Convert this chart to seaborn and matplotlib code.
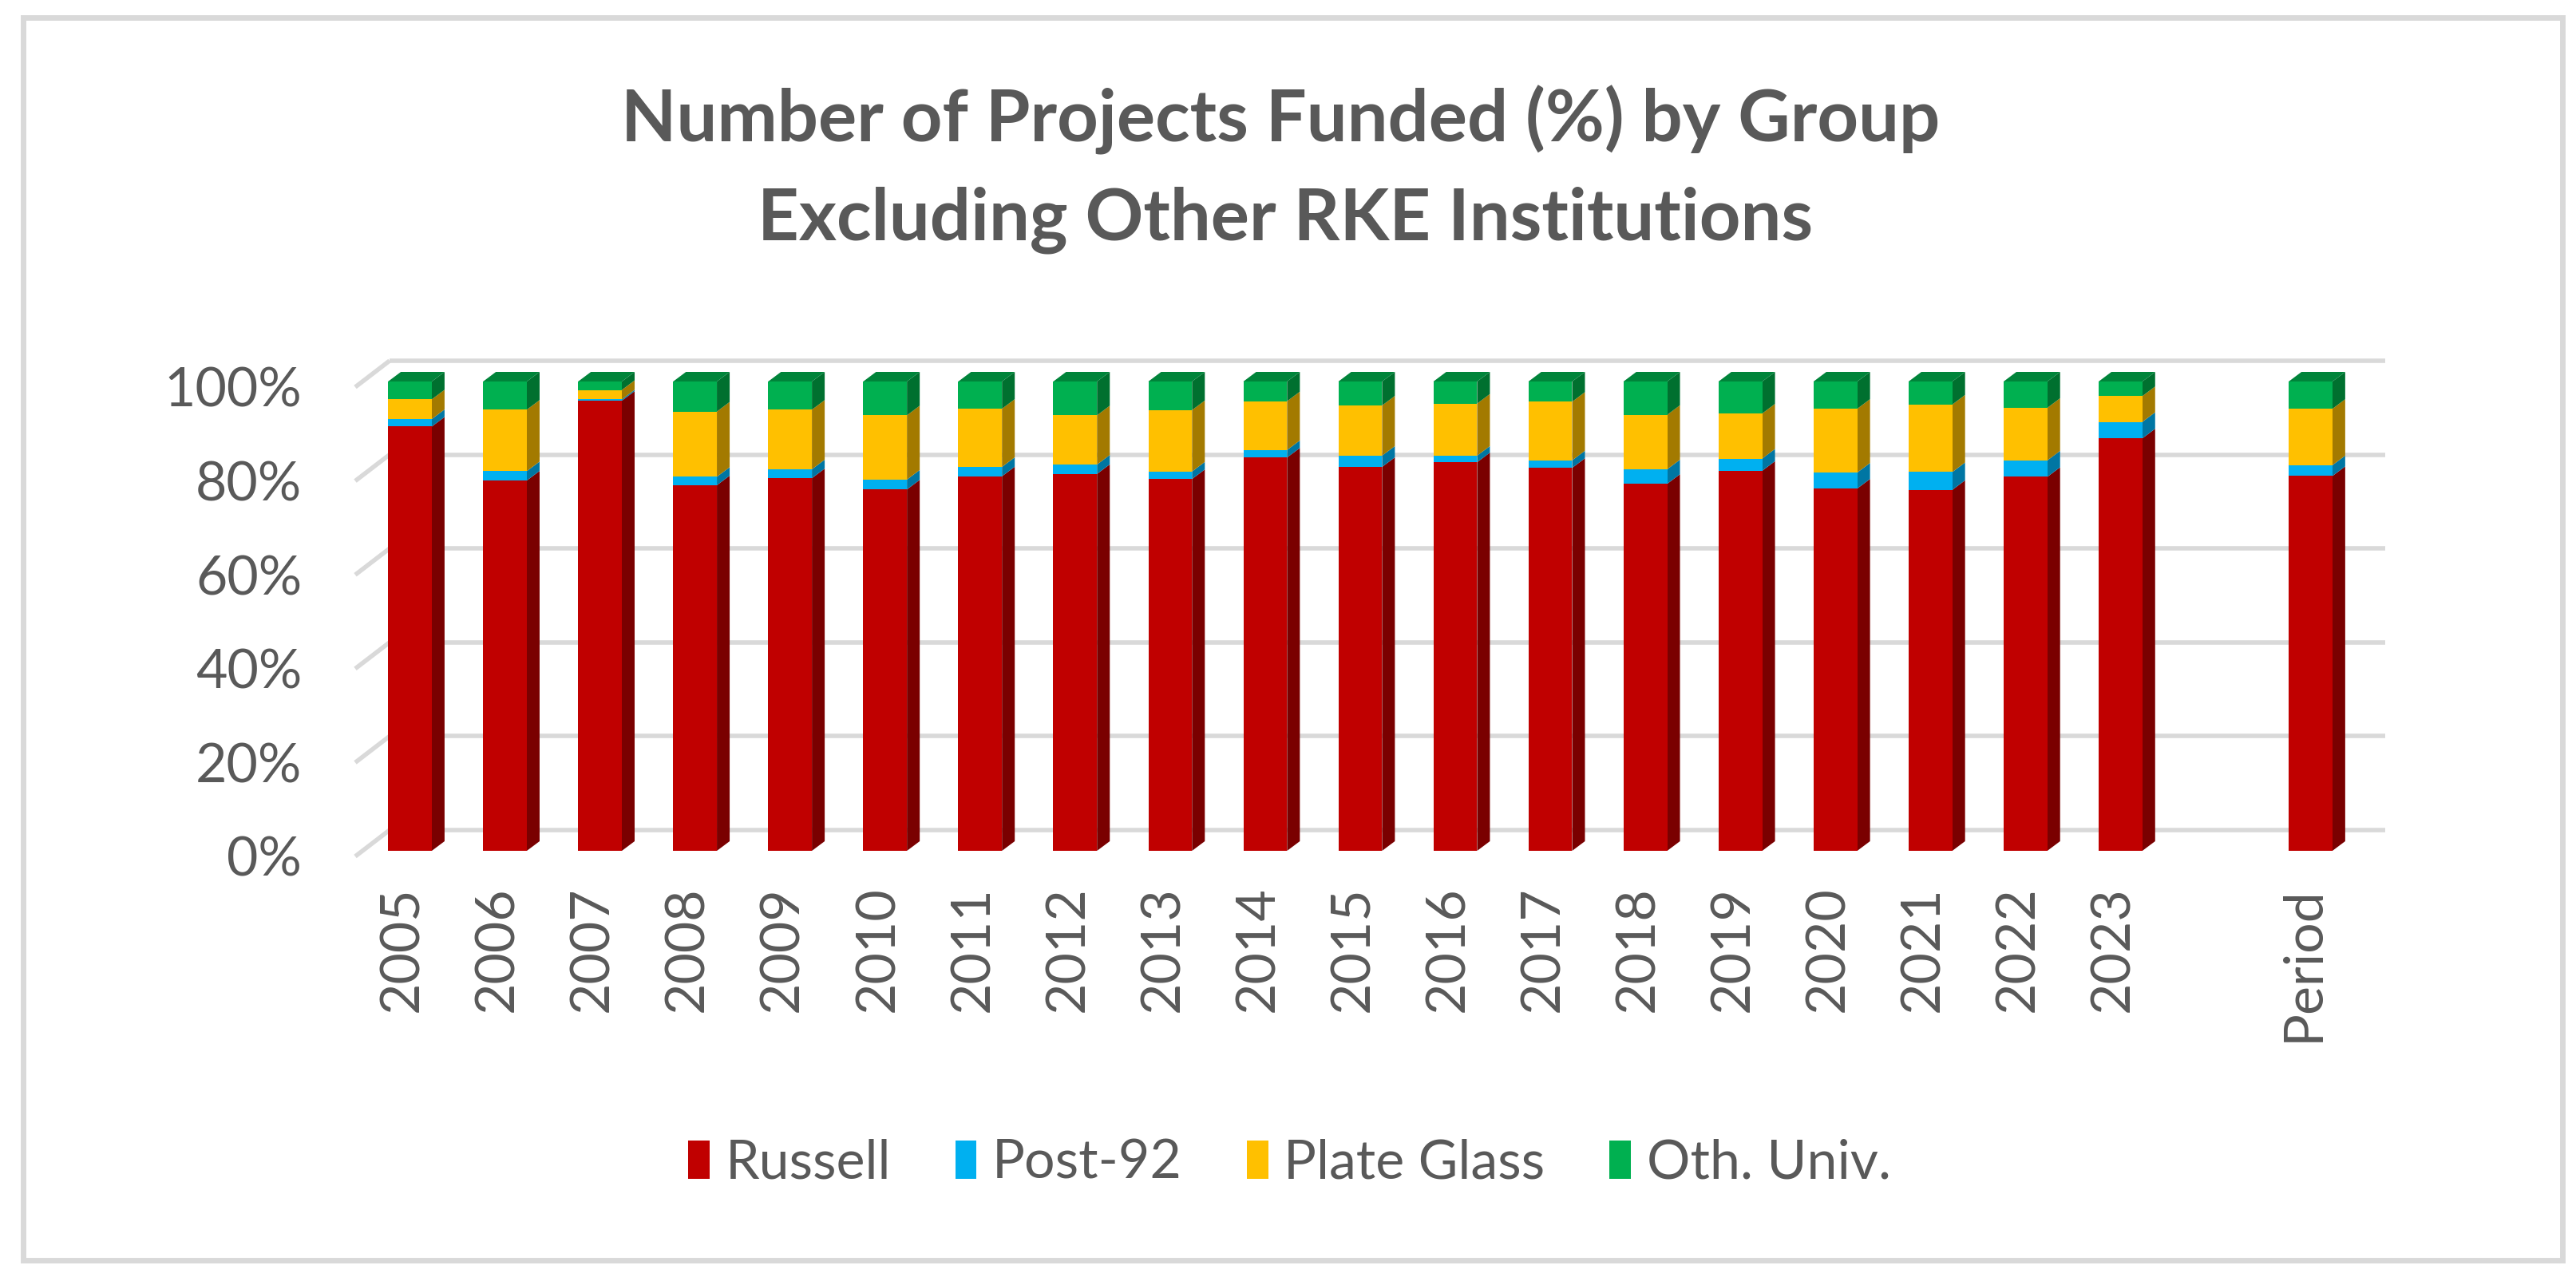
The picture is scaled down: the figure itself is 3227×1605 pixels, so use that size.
import matplotlib
matplotlib.use('Agg')
import numpy as np
import pandas as pd
import seaborn as sns
from matplotlib import pyplot as plt
from matplotlib.patches import Patch, Polygon, Rectangle

# values (percent of projects, per year)
years = [str(y) for y in range(2005, 2024)] + ['Period']
russell = [90.4, 78.9, 95.9, 77.9, 79.4, 77.0, 79.8, 80.3, 79.3, 83.8,
           81.8, 82.8, 81.6, 78.2, 80.9, 77.2, 76.9, 79.6, 87.8, 79.7]
post_92 = [1.6, 2.0, 0.3, 1.8, 1.9, 2.1, 2.0, 2.0, 1.6, 1.6,
           2.4, 1.4, 1.6, 3.1, 2.6, 3.4, 3.8, 3.5, 3.5, 2.3]
plate_glass = [4.2, 13.1, 2.0, 13.9, 12.7, 13.7, 12.4, 10.5, 13.1, 10.4,
               10.7, 11.1, 12.5, 11.6, 9.6, 13.6, 14.4, 11.2, 5.5, 12.0]
oth_univ = [3.8, 6.0, 1.8, 6.4, 6.0, 7.2, 5.8, 7.2, 6.1, 4.2,
            5.1, 4.7, 4.3, 7.1, 6.8, 5.8, 4.9, 5.6, 3.1, 5.8]

series_names = ['Russell', 'Post-92', 'Plate Glass', 'Oth. Univ.']
front_colors = ['#C00000', '#00B0F0', '#FFC000', '#00B050']
side_colors = ['#7A0000', '#0076A3', '#A37A00', '#00702F']
top_color = '#00843A'
tick_values = [0.0, 0.2, 0.4, 0.6, 0.8, 1.0]
tick_labels = ['0%', '20%', '40%', '60%', '80%', '100%']

TITLE = 'Number of Projects Funded (%) by Group\nExcluding Other RKE Institutions'
TEXT_COLOR = '#595959'
GRID_COLOR = '#D9D9D9'

# empty slot between 2023 and Period
order = years[:-1] + [' ', 'Period']
positions = {cat: i for i, cat in enumerate(order)}

df = pd.DataFrame({'year': years, 'Russell': russell, 'Post-92': post_92,
                   'Plate Glass': plate_glass, 'Oth. Univ.': oth_univ})
shares = df[series_names].div(df[series_names].sum(axis=1), axis=0)
tops = shares.cumsum(axis=1)
bottoms = tops - shares

sns.set_style('white')
plt.rcParams['font.family'] = ['Lato', 'DejaVu Sans']

fig = plt.figure(figsize=(32.27, 16.05), dpi=100)
ax = fig.add_axes([445 / 3227, 532 / 1605, 2500 / 3227, 588 / 1605])

BAR_W = 0.46
# pseudo 3d offsets in data units (x per slot, y per 100%)
wall_dx, wall_dy = 43 / 119, 33 / 588
bar_dx, bar_dy = 9 / 119, 7 / 588
depth_dx, depth_dy = 16 / 119, 12 / 588

# back wall gridlines + side wall diagonals
for v in tick_values:
    ax.plot([-0.5 + wall_dx, 20.5 + wall_dx], [v + wall_dy, v + wall_dy],
            color=GRID_COLOR, lw=4, solid_capstyle='butt', clip_on=False, zorder=0)
    ax.plot([-0.5, -0.5 + wall_dx], [v, v + wall_dy],
            color=GRID_COLOR, lw=4, solid_capstyle='butt', clip_on=False, zorder=0)

# front faces: cumulative bars drawn top series first
plot_df = tops.copy()
plot_df['year'] = df['year']
for k in range(len(series_names) - 1, -1, -1):
    sns.barplot(data=plot_df, x='year', y=series_names[k], order=order,
                color=front_colors[k], saturation=1, width=BAR_W,
                errorbar=None, linewidth=0, ax=ax, zorder=3)
for p in ax.patches:
    p.set_x(p.get_x() + bar_dx)
    p.set_y(p.get_y() + bar_dy)
    p.set_clip_on(False)

# side and top faces
for j, year in enumerate(df['year']):
    x_r = positions[year] + BAR_W / 2 + bar_dx
    x_l = positions[year] - BAR_W / 2 + bar_dx
    for k, name in enumerate(series_names):
        b = bottoms.loc[j, name] + bar_dy
        t = tops.loc[j, name] + bar_dy
        ax.add_patch(Polygon([(x_r, b), (x_r + depth_dx, b + depth_dy),
                              (x_r + depth_dx, t + depth_dy), (x_r, t)],
                             closed=True, fc=side_colors[k], ec='none',
                             clip_on=False, zorder=2))
    t = tops.loc[j, series_names[-1]] + bar_dy
    ax.add_patch(Polygon([(x_l, t), (x_l + depth_dx, t + depth_dy),
                          (x_r + depth_dx, t + depth_dy), (x_r, t)],
                         closed=True, fc=top_color, ec='none',
                         clip_on=False, zorder=2))

ax.set_xlim(-0.5, 20.5)
ax.set_ylim(0, 1)
ax.set_yticks(tick_values, tick_labels)
ax.set_xlabel('')
ax.set_ylabel('')
ax.tick_params(axis='both', length=0, labelsize=49, labelcolor=TEXT_COLOR)
ax.tick_params(axis='y', pad=48)
ax.tick_params(axis='x', pad=27, labelrotation=90)
for lbl in ax.get_xticklabels():
    lbl.set_va('top')
sns.despine(ax=ax, left=True, bottom=True)
ax.patch.set_visible(False)

title_lines = TITLE.split('\n')
fig.text(0.497, (1605 - 177) / 1605, title_lines[0], ha='center', va='baseline',
         fontsize=65, fontweight='bold', color=TEXT_COLOR)
fig.text(0.499, (1605 - 300) / 1605, title_lines[1], ha='center', va='baseline',
         fontsize=65, fontweight='bold', color=TEXT_COLOR)

handles = [Patch(facecolor=c, edgecolor='none') for c in front_colors]
fig.legend(handles, series_names, loc='center', bbox_to_anchor=(0.5006, 0.0916),
           ncol=4, frameon=False, fontsize=49, labelcolor=TEXT_COLOR,
           handlelength=0.39, handleheight=0.7, handletextpad=0.29,
           columnspacing=1.19)

fig.patches.append(Rectangle((28.5 / 3227, 26 / 1605), 3181 / 3227, 1557 / 1605,
                             transform=fig.transFigure, fill=False,
                             ec=GRID_COLOR, lw=5))

fig.savefig('out.png', dpi=100)
